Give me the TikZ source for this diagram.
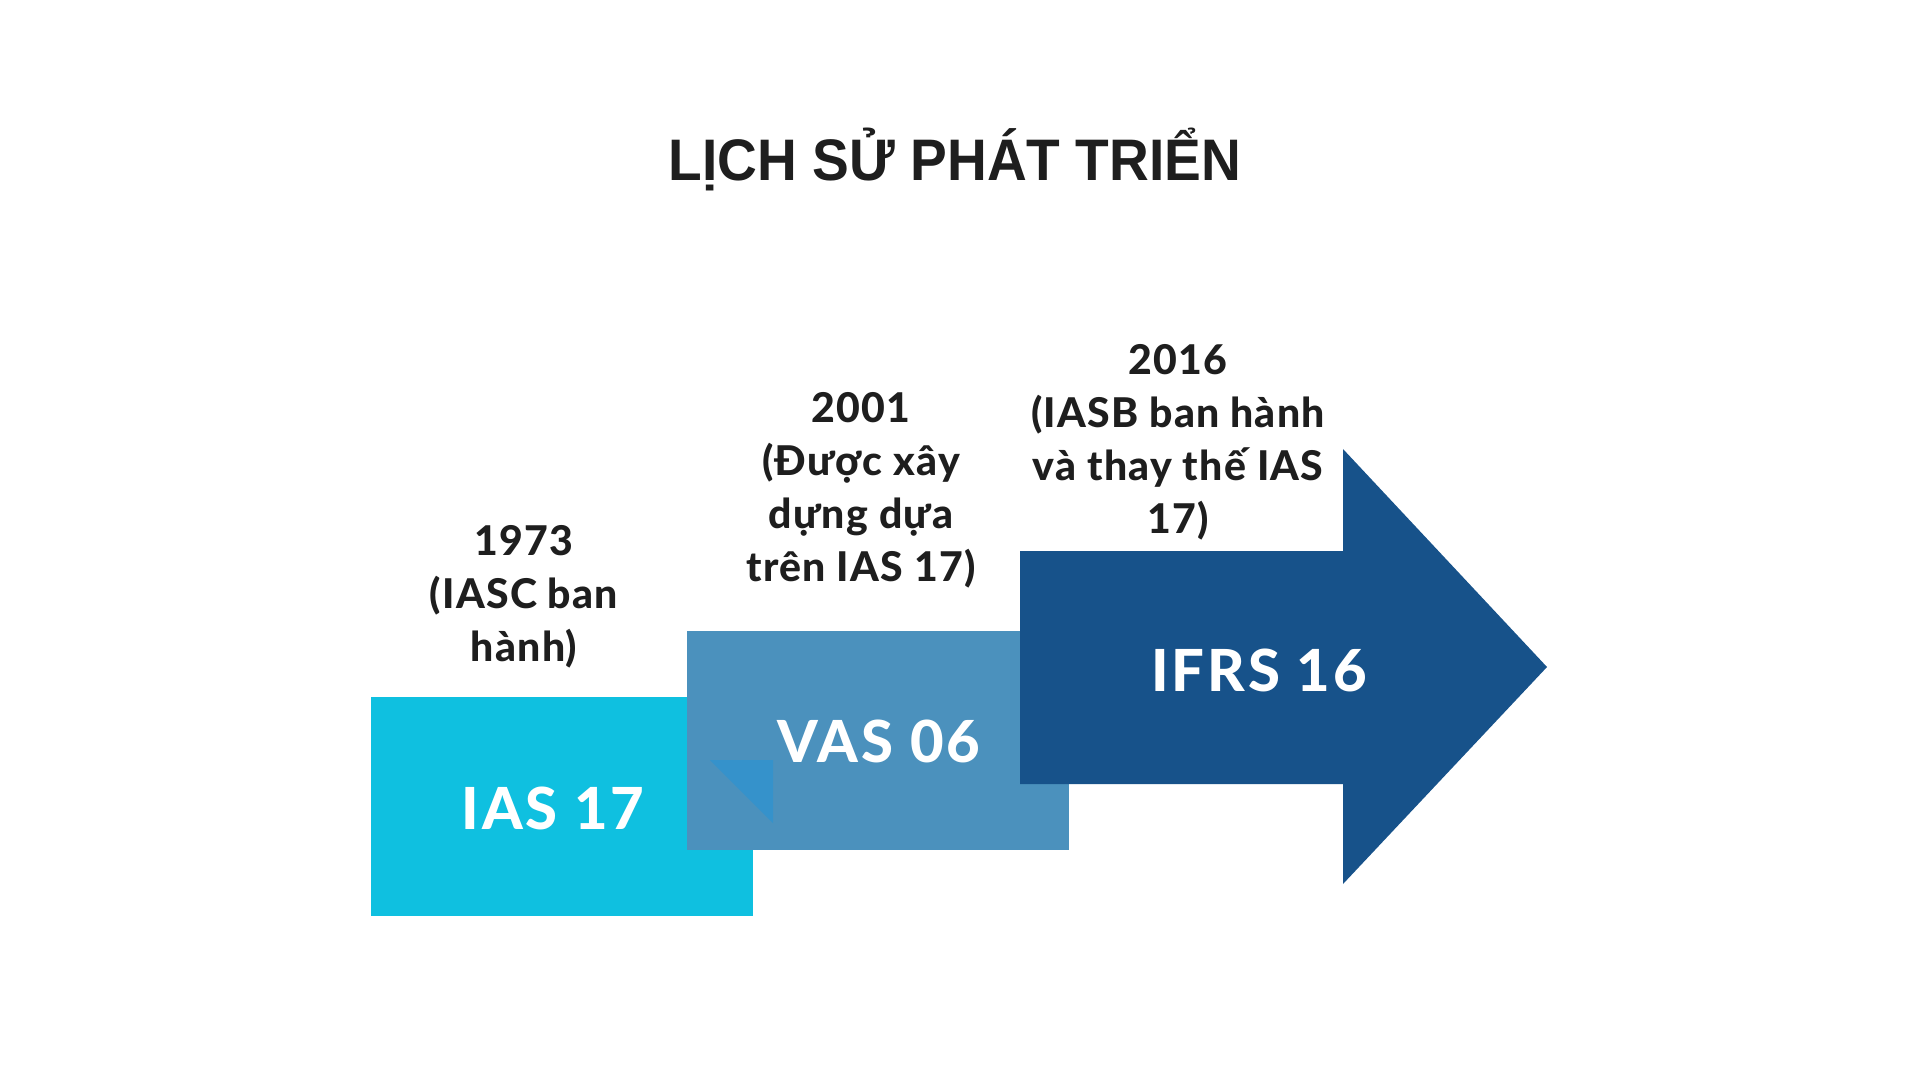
\documentclass[tikz,border=0pt]{standalone}
\usepackage{fontspec}
\newfontfamily\labfont{Lato}[BoldFont={* Heavy},LetterSpace=3]
\newfontfamily\boxfont{Lato}[BoldFont={* Heavy},LetterSpace=5]
\newfontfamily\titlefont{Liberation Sans}[FakeStretch=0.94]
\definecolor{cyanbox}{HTML}{0FC0E0}
\definecolor{midblue}{HTML}{4B91BD}
\definecolor{triblue}{HTML}{3592CB}
\definecolor{darkblue}{HTML}{17528A}
\definecolor{ink}{HTML}{1E1E1E}
\begin{document}
\begin{tikzpicture}[x=1pt,y=-1pt,
  block/.style={fill=#1,draw=none,inner sep=0pt,minimum width=382pt,minimum height=219pt},
  boxlabel/.style={anchor=base,text=white,font=\boxfont\bfseries\fontsize{58}{58}\selectfont},
  yearlabel/.style={anchor=base,text=ink,align=center,font=\labfont\bfseries\fontsize{41}{53}\selectfont}]
\useasboundingbox (0,0) rectangle (1920,1080);
\fill[white] (0,0) rectangle (1920,1080);
% title
\node[anchor=base,text=ink,font=\titlefont\bfseries\fontsize{58.6}{60}\selectfont] (title) at (955,180) {LỊCH SỬ PHÁT TRIỂN};
% blocks
\node[block=cyanbox] (ias) at (562,806.5) {};
\node[block=midblue] (vas) at (878,740.5) {};
\fill[triblue] (710,760) -- (773,760) -- (773,823) -- cycle;
\coordinate (a1) at (1020,551);
\coordinate (a2) at (1343,551);
\coordinate (a3) at (1343,449);
\coordinate (tip) at (1547,667);
\coordinate (a5) at (1343,884);
\coordinate (a6) at (1343,784);
\coordinate (a7) at (1020,784);
\fill[darkblue] (a1) -- (a2) -- (a3) -- (tip) -- (a5) -- (a6) -- (a7) -- cycle;
% labels in blocks
\node[boxlabel] (iast) at (553,829) {IAS 17};
\node[boxlabel] (vast) at (879,762) {VAS 06};
\node[boxlabel] (ifrst) at (1259,691) {IFRS 16};
% year labels
\node[yearlabel] (y1973) at (524,661) {1973\\(IASC ban\\hành)};
\node[yearlabel] (y2001) at (861,581) {2001\\(Được xây\\dựng dựa\\trên IAS 17)};
\node[yearlabel] (y2016) at (1178,533) {2016\\(IASB ban hành\\và thay thế IAS\\17)};
\end{tikzpicture}
\end{document}
